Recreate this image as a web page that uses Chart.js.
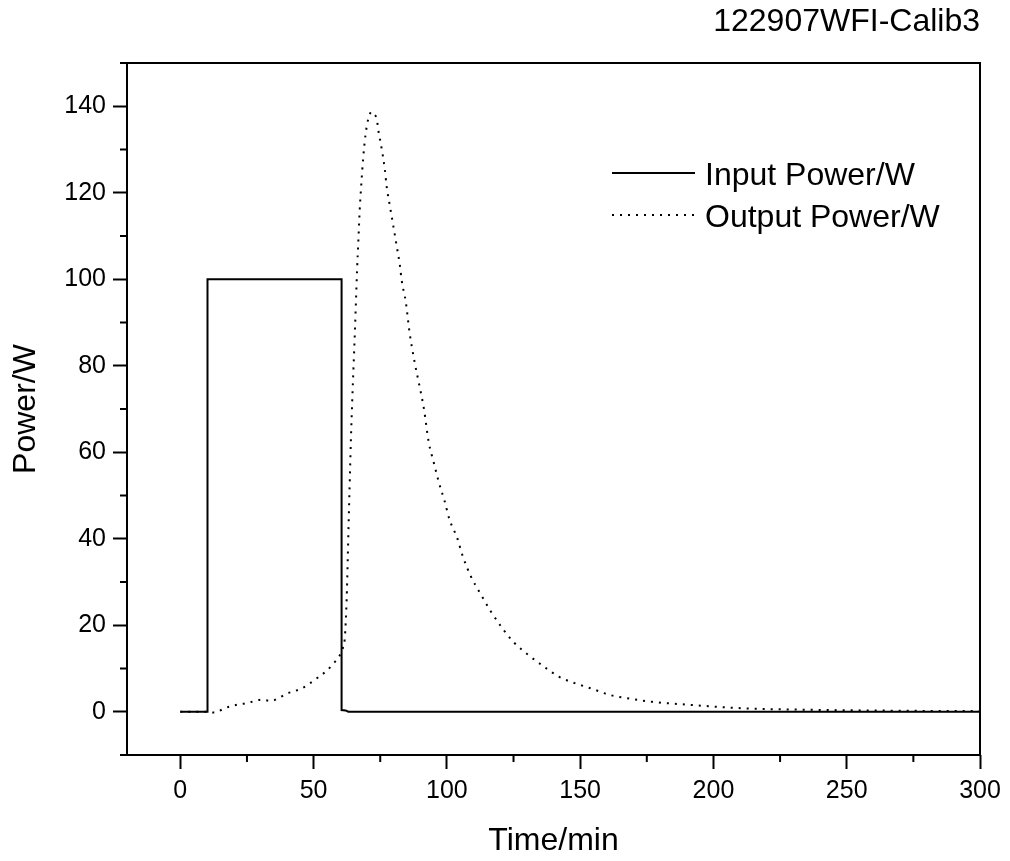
<!DOCTYPE html>
<html>
<head>
<meta charset="utf-8">
<script src="https://cdn.jsdelivr.net/npm/chart.js@4.4.1/dist/chart.umd.min.js"></script>
<style>
  html, body { margin: 0; padding: 0; background: #fff; }
  #wrap { width: 1010px; height: 861px; }
</style>
</head>
<body>
<div id="wrap"><canvas id="chart" width="1010" height="861"></canvas></div>
<script>
// données
var chartTitle = '122907WFI-Calib3';
var inputLabel = 'Input Power/W';
var outputLabel = 'Output Power/W';

var inputTime  = [0, 10.2, 10.2, 30, 60.5, 60.5, 62, 63, 300];
var inputPower = [0, 0, 100, 100, 100, 0.4, 0.3, 0, 0];

var outputTime = [0, 5, 10, 13, 16, 19, 22, 25, 28, 30.5, 34, 37, 40, 43, 45.5, 48, 52, 55, 57.5, 59.5, 61,
  61.7, 62.4, 62.8, 63.2, 63.6, 64.0, 64.5, 65.0, 65.5, 65.9, 66.3, 66.8, 67.3, 67.9, 68.6, 69.5, 70.5, 71.8,
  72.7, 73.7, 74.4, 75.6, 76.7, 77.4, 78.6, 80, 81.2, 82.3, 83.1, 84.6, 86, 87.9, 89.5, 91.4, 93.2, 95.1, 97,
  99.2, 101, 103.8, 106, 109, 112.4, 116.5, 120.7, 125.2, 130.8, 136.5, 142, 148.5, 154.5, 161, 167, 177,
  191, 211, 231, 258, 280, 300];
var outputPower = [0, 0, 0, -0.2, 0.6, 1.3, 1.7, 2.0, 2.5, 2.8, 2.5, 3.2, 4.2, 4.8, 5.4, 6.3, 8.1, 9.5, 11.2, 12.7, 14.8,
  17, 26, 35, 45, 54, 63, 72, 80, 88, 95, 102, 109, 116, 122, 128, 133.5, 137, 138.7,
  138.2, 137, 134, 130, 125.5, 121.5, 117, 112, 107.6, 103.5, 99.5, 94.7, 87.7, 80.8, 76, 70, 62.3, 57.6, 53,
  48.6, 44.4, 40.3, 35.9, 31.3, 27.5, 23.2, 19.4, 16, 13, 10.4, 8.1, 6.5, 5.3, 3.9, 3.2, 2.3,
  1.6, 0.8, 0.5, 0.3, 0.2, 0.2];

var xMin = -20, xMax = 300, xMinor = 25, xMajor = 50;
var yMin = -10, yMax = 150, yMinor = 10, yMajor = 20;

function toPoints(xs, ys) {
    return xs.map(function (x, i) { return { x: x, y: ys[i] }; });
}

var font = 'Liberation Sans, Arial, sans-serif';

// cadre, petites graduations et légende
var originStyle = {
    id: 'originStyle',
    afterDraw: function (chart) {
        var ctx = chart.ctx;
        var a = chart.chartArea;
        ctx.save();
        ctx.strokeStyle = '#000';
        ctx.lineWidth = 2;
        ctx.strokeRect(a.left, a.top, a.right - a.left, a.bottom - a.top);

        // petites graduations
        var xs = chart.scales.x, ys = chart.scales.y;
        ctx.beginPath();
        xs.ticks.forEach(function (t) {
            if (t.value % xMajor !== 0) {
                var px = xs.getPixelForValue(t.value);
                ctx.moveTo(px, a.bottom);
                ctx.lineTo(px, a.bottom + 7);
            }
        });
        ys.ticks.forEach(function (t) {
            if (t.value % yMajor !== 0) {
                var py = ys.getPixelForValue(t.value);
                ctx.moveTo(a.left, py);
                ctx.lineTo(a.left - 7, py);
            }
        });
        ctx.stroke();

        // légende
        var rows = [173, 215];
        ctx.font = '32px ' + font;
        ctx.textBaseline = 'middle';
        ctx.fillStyle = '#000';
        chart.data.datasets.forEach(function (ds, i) {
            ctx.beginPath();
            ctx.lineWidth = ds.borderWidth;
            ctx.setLineDash(ds.borderDash || []);
            ctx.moveTo(612, rows[i]);
            ctx.lineTo(695, rows[i]);
            ctx.stroke();
            ctx.setLineDash([]);
            ctx.fillText(ds.label, 705, rows[i] + 3);
        });
        ctx.restore();
    }
};

var chart = new Chart(document.getElementById('chart'), {
    type: 'line',
    data: {
        datasets: [{
            label: inputLabel,
            data: toPoints(inputTime, inputPower),
            borderColor: '#000',
            borderWidth: 2,
            pointRadius: 0,
            tension: 0
        }, {
            label: outputLabel,
            data: toPoints(outputTime, outputPower),
            borderColor: '#000',
            borderWidth: 2,
            borderDash: [2, 6],
            pointRadius: 0,
            cubicInterpolationMode: 'monotone'
        }]
    },
    options: {
        responsive: false,
        animation: false,
        layout: { padding: { left: 0, right: 30, top: 0, bottom: 0 } },
        plugins: {
            legend: { display: false },
            tooltip: { enabled: false },
            title: {
                display: true,
                text: chartTitle,
                align: 'end',
                color: '#000',
                font: { family: font, size: 32, weight: 'normal' },
                padding: { top: 3, bottom: 21.6 }
            }
        },
        scales: {
            x: {
                type: 'linear',
                min: xMin,
                max: xMax,
                afterFit: function (scale) { scale.height = 106; },
                border: { display: false },
                grid: {
                    drawOnChartArea: false,
                    tickLength: 14,
                    tickWidth: 2,
                    tickColor: function (c) {
                        return (c.tick && c.tick.value % xMajor === 0) ? '#000' : 'rgba(0,0,0,0)';
                    }
                },
                ticks: {
                    stepSize: xMinor,
                    includeBounds: false,
                    maxRotation: 0,
                    autoSkip: false,
                    padding: 7,
                    color: '#000',
                    font: { family: font, size: 25 },
                    callback: function (v) { return v % xMajor === 0 ? v : ''; }
                },
                title: {
                    display: true,
                    text: 'Time/min',
                    color: '#000',
                    font: { family: font, size: 32 },
                    padding: { top: 0, bottom: 1 }
                }
            },
            y: {
                min: yMin,
                max: yMax,
                afterFit: function (scale) { scale.width = 127; },
                border: { display: false },
                grid: {
                    drawOnChartArea: false,
                    tickLength: 14,
                    tickWidth: 2,
                    tickColor: function (c) {
                        return (c.tick && c.tick.value % yMajor === 0) ? '#000' : 'rgba(0,0,0,0)';
                    }
                },
                ticks: {
                    stepSize: yMinor,
                    includeBounds: false,
                    autoSkip: false,
                    padding: 7,
                    color: '#000',
                    font: { family: font, size: 25 },
                    callback: function (v) { return (v % yMajor === 0 && v >= 0 && v <= 140) ? v : ''; }
                },
                title: {
                    display: true,
                    text: 'Power/W',
                    color: '#000',
                    font: { family: font, size: 32 },
                    padding: { top: 7, bottom: 0 }
                }
            }
        }
    },
    plugins: [originStyle]
});
</script>
</body>
</html>
